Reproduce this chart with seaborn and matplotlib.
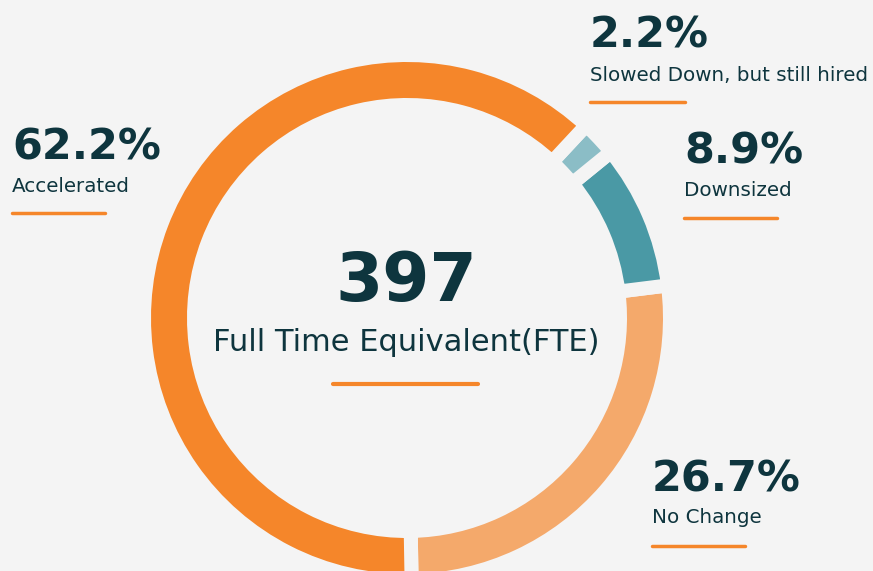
#!/usr/bin/env python3

import seaborn as sns
import matplotlib.pyplot as plt

# Hiring outcome shares (percent of FTE)
categories = ["No Change", "Downsized", "Slowed Down, but still hired", "Accelerated"]
shares = [26.7, 8.9, 2.2, 62.2]
share_labels = ["26.7%", "8.9%", "2.2%", "62.2%"]
total_fte = "397"
total_label = "Full Time Equivalent(FTE)"

BG = "#f4f4f4"
DARK = "#0e353e"
ORANGE = "#f5862a"
colors = ["#f4a96b", "#4a99a5", "#8bbdc6", ORANGE]

sns.set_theme(style="white", rc={"axes.facecolor": BG, "figure.facecolor": BG})
plt.rcParams["font.family"] = ["DejaVu Sans"]

fig = plt.figure(figsize=(8.73, 5.71), dpi=100)
ax = fig.add_axes([0, 0, 1, 1])

# donut; gaps come from thick background-coloured wedge edges
gap = 14
ax.pie(
    shares,
    colors=colors,
    center=(407, 318),
    radius=256 + gap / 2,
    startangle=89,
    counterclock=False,
    wedgeprops=dict(width=36 + gap, edgecolor=BG, linewidth=gap * 72 / 100),
    frame=True,
)
ax.set_xlim(0, 873)
ax.set_ylim(571, 0)
ax.set_aspect("equal")
ax.axis("off")

# label blocks: (x, baseline of percent, baseline of name, y of underline, underline end)
blocks = {
    "Accelerated": (12, 160, 192, 213, 105),
    "Slowed Down, but still hired": (590, 48, 81, 102, 685),
    "Downsized": (684, 164, 196, 218, 777),
    "No Change": (652, 492, 523, 546, 745),
}
for name, pct in zip(categories, share_labels):
    x, yp, yn, yl, xe = blocks[name]
    ax.text(x, yp, pct, fontsize=31, fontweight="bold", color=DARK, va="baseline", ha="left")
    ax.text(x, yn, name, fontsize=14.3, color=DARK, va="baseline", ha="left")
    ax.plot([x, xe], [yl, yl], color=ORANGE, lw=2.5, solid_capstyle="round")

# centre
ax.text(406, 301, total_fte, fontsize=49, fontweight="bold", color=DARK, va="baseline", ha="center")
ax.text(406, 351, total_label, fontsize=22, color=DARK, va="baseline", ha="center")
ax.plot([333, 478], [384, 384], color=ORANGE, lw=3, solid_capstyle="round")

fig.savefig("out.png", dpi=100, facecolor=BG)
